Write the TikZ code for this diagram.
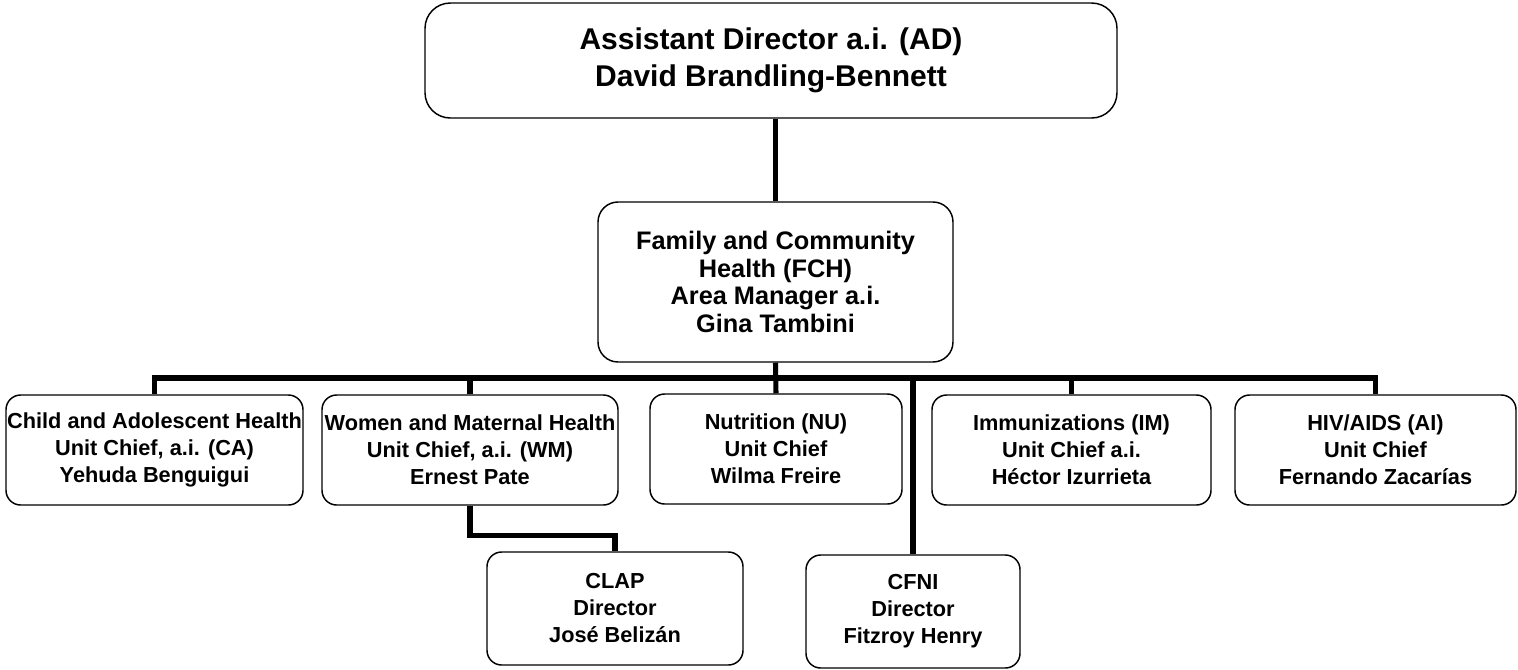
\documentclass[tikz,border=0pt]{standalone}
\usepackage{fontspec}
\setmainfont{Liberation Sans}
\begin{document}
\begin{tikzpicture}[x=0.75pt,y=-0.75pt,
  unitbox/.style={draw=black, line width=1.1pt, fill=white, rounded corners=11pt,
    inner sep=0pt, align=center, minimum height=82.5pt,
    font=\bfseries\fontsize{16.3}{20.25}\selectfont},
  areabox/.style={unitbox, rounded corners=15pt,
    font=\bfseries\fontsize{19}{20.6}\selectfont},
  topbox/.style={unitbox, rounded corners=19pt,
    font=\bfseries\fontsize{22.5}{27.75}\selectfont},
  link/.style={draw=black, line width=3.8pt}]
\useasboundingbox (0,0) rectangle (1518,669);

% Director and area manager
\node[topbox, minimum width=519pt, minimum height=86.25pt] (ad) at (771,60.5)
  {Assistant Director a.i. (AD)\\David Brandling-Bennett};
\node[areabox, minimum width=266.25pt, minimum height=120pt] (fch) at (775.5,282)
  {Family and Community\\Health (FCH)\\Area Manager a.i.\\Gina Tambini};

% Units
\node[unitbox, minimum width=222.75pt] (ca) at (154.5,450)
  {Child and Adolescent Health\\Unit Chief, a.i. (CA)\\Yehuda Benguigui};
\node[unitbox, minimum width=222pt] (wm) at (470,450)
  {Women and Maternal Health\\Unit Chief, a.i. (WM)\\Ernest Pate};
\node[unitbox, minimum width=189pt] (nu) at (776,449)
  {Nutrition (NU)\\Unit Chief\\Wilma Freire};
\node[unitbox, minimum width=209.25pt] (im) at (1071.5,450)
  {Immunizations (IM)\\Unit Chief a.i.\\Héctor Izurrieta};
\node[unitbox, minimum width=210.75pt] (ai) at (1375.5,450)
  {HIV/AIDS (AI)\\Unit Chief\\Fernando Zacarías};

% Centres
\node[unitbox, minimum width=192pt, minimum height=84.75pt] (clap) at (615,608.5)
  {CLAP\\Director\\José Belizán};
\node[unitbox, minimum width=160.5pt, minimum height=84.75pt] (cfni) at (913,611.5)
  {CFNI\\Director\\Fitzroy Henry};

% Connectors
\coordinate (bus) at (0,378);
\draw[link] (fch.north |- ad.south) -- (fch.north);
\draw[link] (fch.south) -- (nu.north);
\draw[link] (ca.north) -- (ca.north |- bus) -| (ai.north);
\draw[link] (wm.north) -- (wm.north |- bus);
\draw[link] (im.north) -- (im.north |- bus);
\draw[link] (cfni.north) -- (cfni.north |- bus);
\draw[link] (wm.south) -- ++(0,30) -| (clap.north);
\end{tikzpicture}
\end{document}
